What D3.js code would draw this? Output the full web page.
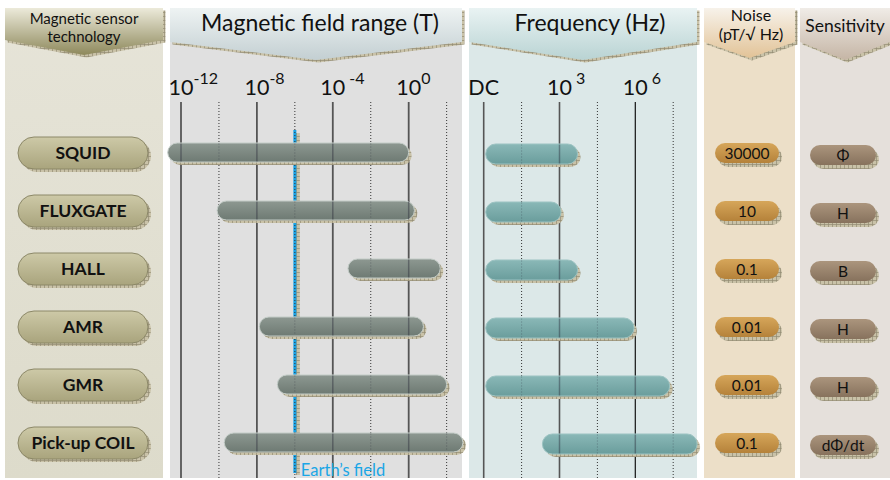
<!DOCTYPE html>
<html><head><meta charset="utf-8">
<script src="https://cdn.jsdelivr.net/npm/d3@7/dist/d3.min.js"></script>
<style>body{margin:0;background:#fff;}svg{display:block;font-family:Lato,"Open Sans",sans-serif;}</style>
</head><body>
<svg id="chart" width="890" height="480"></svg>
<script>
// ---- data ----
const techs = ["SQUID", "FLUXGATE", "HALL", "AMR", "GMR", "Pick-up COIL"];
const fieldMin = [2e-13, 8e-11, 6.3e-4, 1.35e-8, 1.2e-7, 1.9e-10];   // Tesla
const fieldMax = [1, 2, 46, 6, 100, 720];
const freqMin = [1.2, 1.2, 1.2, 1.2, 1.2, 210];                      // Hz (DC = 1)
const freqMax = [5.2e3, 1.15e3, 5.2e3, 8.9e5, 2.3e7, 2.8e8];
const noise = ["30000", "10", "0.1", "0.01", "0.01", "0.1"];
const sensitivity = ["Φ", "H", "B", "H", "H", "dΦ/dt"];
const fieldTicks = [1e-12, 1e-8, 1e-4, 1];
const fieldTickExp = ["-12", "-8", " -4", "0"];
const fieldMinorTicks = [1e-10, 1e-6, 1e-2, 1e2];
const freqTicks = [1, 1e3, 1e6];
const freqTickBase = ["DC", "10", "10"];
const freqTickExp = ["", " 3", " 6"];
const freqMinorTicks = [Math.pow(10, 1.5), Math.pow(10, 4.5), Math.pow(10, 7.5)];
const earthField = 1e-6;

// ---- setup ----
const svg = d3.select("#chart");
const defs = svg.append("defs");
const pat = defs.append("pattern").attr("id", "chk").attr("width", 4).attr("height", 4).attr("patternUnits", "userSpaceOnUse");
pat.append("rect").attr("width", 4).attr("height", 4).attr("fill", "#c9c2a8");
pat.append("path").attr("d", "M0 0.5H4M0.5 0V4").attr("stroke", "#928b72").attr("stroke-width", 0.7);

function grad(id, c1, c2) {
  const g = defs.append("linearGradient").attr("id", id).attr("x1", 0).attr("y1", 0).attr("x2", 0).attr("y2", 1);
  g.append("stop").attr("offset", "0%").attr("stop-color", c1);
  g.append("stop").attr("offset", "100%").attr("stop-color", c2);
}
grad("hdr0", "#eceada", "#8e895c");
grad("hdr1", "#eef3f3", "#c3cfd2");
grad("hdr2", "#e9f3f3", "#b9d3d3");
grad("hdr3", "#f7f2ea", "#e2c397");
grad("hdr4", "#f0ece7", "#c5b5a5");
grad("bg0", "#e6e4d8", "#dddbcb");
grad("pillT", "#cdc9a7", "#a9a47d");
grad("barF", "#8d9891", "#6e7a73");
grad("barQ", "#8ab8b7", "#6a9d9c");
grad("pillN", "#d6a65a", "#b5823a");
grad("pillS", "#ab957d", "#87725d");

const panels = [
  {x0: 5, x1: 163, bg: "url(#bg0)", hdr: "url(#hdr0)", edge: 40, pt: 55},
  {x0: 170, x1: 462, bg: "#e0e0e0", hdr: "url(#hdr1)", edge: 42, pt: 60},
  {x0: 469, x1: 697, bg: "#dce8e8", hdr: "url(#hdr2)", edge: 42, pt: 60},
  {x0: 704, x1: 795, bg: "#ecdfc8", hdr: "url(#hdr3)", edge: 42, pt: 58},
  {x0: 800, x1: 890, bg: "#e5e0db", hdr: "url(#hdr4)", edge: 42, pt: 60}
];
const topY = 8, bottomY = 478;

panels.forEach(p => {
  svg.append("rect").attr("x", p.x0).attr("y", topY).attr("width", p.x1 - p.x0).attr("height", bottomY - topY).attr("fill", p.bg);
});

// scales
const xF = d3.scaleLog().domain([1e-12, 1]).range([181, 408.7]);
const xQ = d3.scaleLog().domain([1, 1e6]).range([483.7, 635.3]);
const y = d3.scalePoint().domain(techs).range([153, 443]);

// grid lines
const gridTop = 102;
function vline(x, dotted, color, w) {
  svg.append("line").attr("x1", x).attr("x2", x).attr("y1", gridTop).attr("y2", bottomY)
    .attr("stroke", color).attr("stroke-width", w).attr("stroke-dasharray", dotted ? "1,2" : null);
}
fieldTicks.forEach((t, i) => vline(xF(t), false, i === 0 ? "#111" : "#555", i === 0 ? 1.2 : 1.8));
freqTicks.forEach((t, i) => vline(xQ(t), false, i === 2 ? "#111" : "#555", i === 2 ? 1.2 : 1.6));

// earth's field
const ex = xF(earthField);
svg.append("rect").attr("x", ex + 1).attr("y", 133).attr("width", 4).attr("height", bottomY - 133 - 3).attr("fill", "url(#chk)");
svg.append("rect").attr("x", ex - 1.5).attr("y", 130).attr("width", 3).attr("height", bottomY - 130 - 5).attr("fill", "#17a2e6");

fieldMinorTicks.forEach(t => vline(xF(t), true, "#333", 1));
freqMinorTicks.forEach(t => vline(xQ(t), true, "#333", 1));

svg.append("text").attr("x", ex + 6).attr("y", 476).attr("font-size", 16.5).attr("fill", "#1aa6e6").text("Earth’s field");

// tick labels
function tickLabel(x, base, exp) {
  const tx = svg.append("text").attr("y", 95).attr("font-size", 21.5).attr("fill", "#111").attr("xml:space", "preserve");
  tx.append("tspan").text(base);
  if (exp) tx.append("tspan").attr("dy", -11).attr("font-size", 16).text(exp);
  const w = tx.select("tspan").node().getComputedTextLength();
  tx.attr("x", x - w / 2);
}
fieldTicks.forEach((t, i) => tickLabel(xF(t), "10", fieldTickExp[i]));
freqTicks.forEach((t, i) => tickLabel(xQ(t), freqTickBase[i], freqTickExp[i]));

// headers
panels.forEach((p, i) => {
  const xc = (p.x0 + p.x1) / 2;
  const d = (o) => `M${p.x0 + o},${topY + o} H${p.x1 + o} V${p.edge + o} L${xc + o},${p.pt + o} L${p.x0 + o},${p.edge + o} Z`;
  svg.append("path").attr("d", d(2.5)).attr("fill", "url(#chk)");
  svg.append("path").attr("d", d(0)).attr("fill", p.hdr);
});
const ht = [
  {x: 84, lines: [["Magnetic sensor", 24], ["technology", 42]], fs: 15},
  {x: 320, lines: [["Magnetic field range (T)", 31]], fs: 23},
  {x: 590, lines: [["Frequency (Hz)", 31]], fs: 23},
  {x: 751, lines: [["Noise", 21], ["(pT/√ Hz)", 40]], fs: 16},
  {x: 845, lines: [["Sensitivity", 32]], fs: 17.5}
];
ht.forEach(h => h.lines.forEach(l => {
  svg.append("text").attr("x", h.x).attr("y", l[1]).attr("text-anchor", "middle").attr("font-size", h.fs).attr("fill", "#111").text(l[0]);
}));

// pills helper
function pill(g, x, yc, w, h, fill, sx, sy) {
  g.append("rect").attr("x", x + sx).attr("y", yc - h / 2 + sy).attr("width", w).attr("height", h).attr("rx", h / 2).attr("fill", "url(#chk)");
  return g.append("rect").attr("x", x).attr("y", yc - h / 2).attr("width", w).attr("height", h).attr("rx", h / 2).attr("fill", fill);
}
// grid lines visible through the semi-transparent bars
function showThrough(g, x0, x1, yc, h, ticks, scale, dotted) {
  ticks.filter(t => scale(t) > x0 + 2 && scale(t) < x1 - 2).forEach(t => {
    g.append("line").attr("x1", scale(t)).attr("x2", scale(t)).attr("y1", yc - h / 2).attr("y2", yc + h / 2)
      .attr("stroke", "#223").attr("stroke-opacity", dotted ? 0.35 : 0.4).attr("stroke-width", dotted ? 1 : 1.5)
      .attr("stroke-dasharray", dotted ? "1,2" : null);
  });
}

// technology pills
techs.forEach(t => {
  const g = svg.append("g");
  pill(g, 18, y(t), 130, 32, "url(#pillT)", 3, 3).attr("stroke", "#8c8868").attr("stroke-width", 1);
  g.append("text").attr("x", 83).attr("y", y(t) + 6).attr("text-anchor", "middle").attr("font-size", 17.5).attr("font-weight", "bold").attr("fill", "#111").text(t);
});

// field bars
techs.forEach((t, i) => {
  const g = svg.append("g");
  const x0 = xF(fieldMin[i]), x1 = xF(fieldMax[i]), yc = y(t) - 0.5;
  pill(g, x0, yc, x1 - x0, 19, "url(#barF)", 3, 3).attr("stroke", "#c3ccc7").attr("stroke-width", 1);
  showThrough(g, x0, x1, yc, 18, fieldTicks, xF, false);
  showThrough(g, x0, x1, yc, 18, fieldMinorTicks, xF, true);
});
// frequency bars
techs.forEach((t, i) => {
  const g = svg.append("g");
  const x0 = xQ(freqMin[i]), x1 = xQ(freqMax[i]), yc = y(t) + 1;
  pill(g, x0, yc, x1 - x0, 20, "url(#barQ)", 3, 3).attr("stroke", "#9cc3c2").attr("stroke-width", 1);
  showThrough(g, x0, x1, yc, 19, freqTicks, xQ, false);
  showThrough(g, x0, x1, yc, 19, freqMinorTicks, xQ, true);
});

// noise pills
techs.forEach((t, i) => {
  const g = svg.append("g");
  pill(g, 715, y(t), 64, 20, "url(#pillN)", 3, 4);
  g.append("text").attr("x", 747).attr("y", y(t) + 5.5).attr("text-anchor", "middle").attr("font-size", 15.5).attr("fill", "#111").text(noise[i]);
});
// sensitivity pills
techs.forEach((t, i) => {
  const g = svg.append("g");
  pill(g, 810, y(t) + 2, 66, 20, "url(#pillS)", 3, 4);
  g.append("text").attr("x", 843).attr("y", y(t) + 7.5).attr("text-anchor", "middle").attr("font-size", 15.5).attr("fill", "#111").text(sensitivity[i]);
});
</script>
</body></html>
